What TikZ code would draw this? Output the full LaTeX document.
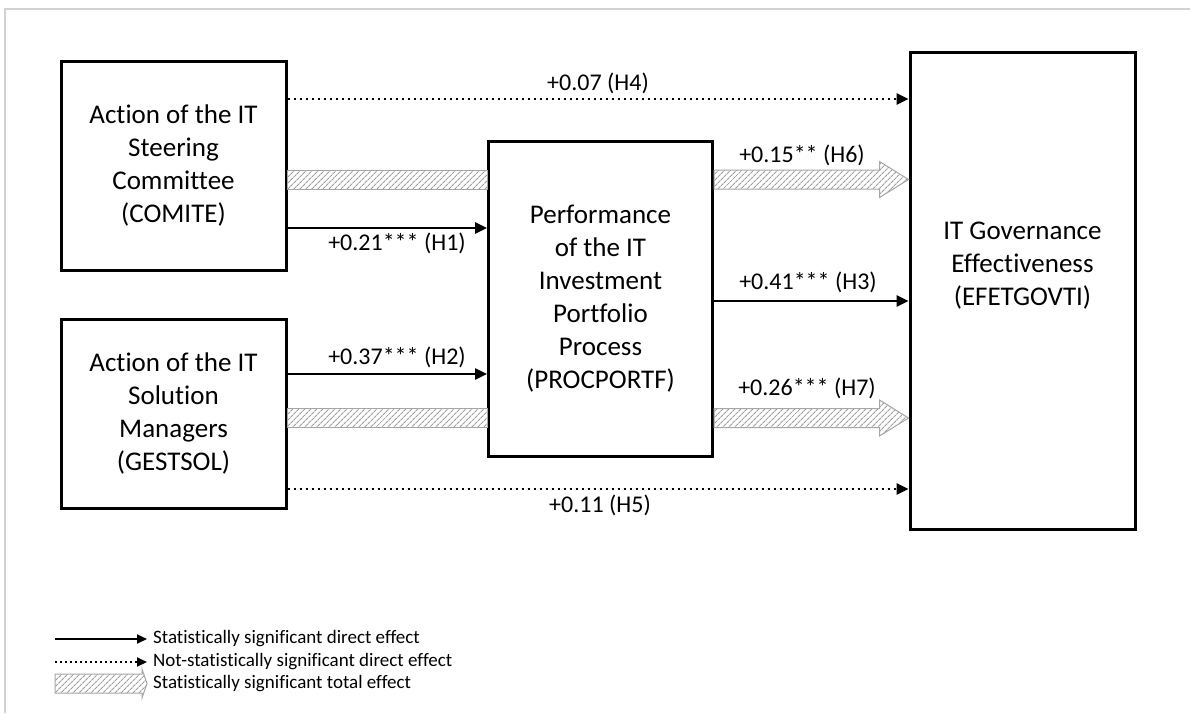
\documentclass[tikz,border=0pt]{standalone}
\usepackage{fontspec}
\setmainfont{Carlito}[Ligatures=NoCommon]
\usetikzlibrary{
  arrows.meta,   % Triangle tips
  calc,          % coordinate offsets
  patterns.meta, % hatched total-effect bars
  positioning
}

\begin{document}
\begin{tikzpicture}[x=1pt, y=-1pt, >={Triangle[length=12pt, width=11pt]},
  box/.style={draw=black, line width=3pt, inner sep=0pt, align=center,
    font=\fontsize{27}{33}\selectfont},
  direct/.style={line width=2.5pt, ->},
  notsig/.style={line width=2.5pt, dash pattern=on 2.5pt off 3.5pt, ->},
  total/.style={draw=gray!70, line width=1pt,
    pattern={Lines[angle=45, distance=4pt, line width=1.2pt]}, pattern color=gray!75},
  elabel/.style={font=\fontsize{24}{29}\selectfont, inner sep=0pt},
  legtext/.style={anchor=west, font=\fontsize{19}{23}\selectfont, inner sep=0pt}]

  \useasboundingbox (0,0) rectangle (1190,713);
  % light frame (top and left only)
  \draw[gray!35, line width=1.5pt] (5,713) -- (5,9) -- (1190,9);

  % =============== constructs ===============
  \node[box, minimum width=225pt, minimum height=209pt] (comite) at (173.5,165.5)
    {Action of the IT\\Steering\\Committee\\(COMITE)};
  \node[box, minimum width=225pt, minimum height=189pt] (gestsol) at (173.5,413.5)
    {Action of the IT\\Solution\\Managers\\(GESTSOL)};
  \node[box, minimum width=224pt, minimum height=315pt] (procportf) at (600.5,298.5)
    {Performance\\of the IT\\Investment\\Portfolio\\Process\\(PROCPORTF)};
  \node[box, minimum width=225pt, minimum height=477pt] (efetgovti) at (1022.5,290.5) {};
  \node[align=center, inner sep=0pt, font=\fontsize{27}{33}\selectfont] (efettext)
    at ([yshift=24.5pt]efetgovti.center) {IT Governance\\Effectiveness\\(EFETGOVTI)};

  % =============== total effects (hatched) ===============
  \coordinate (t1s) at ([yshift=-14pt]comite.east);
  \coordinate (t1e) at (t1s -| procportf.west);
  \draw[total] ($(t1s)+(0,-9.5)$) rectangle ($(t1e)+(0,9.5)$);
  \coordinate (t2s) at ([yshift=-4.5pt]gestsol.east);
  \coordinate (t2e) at (t2s -| procportf.west);
  \draw[total] ($(t2s)+(0,-9.5)$) rectangle ($(t2e)+(0,9.5)$);
  \coordinate (h6s) at ([yshift=119pt]procportf.east);
  \coordinate (h6e) at (h6s -| efetgovti.west);
  \draw[total] ($(h6s)+(0,-9.5)$) -- ($(h6e)+(-29,-9.5)$) -- ($(h6e)+(-29,-18)$) -- (h6e)
    -- ($(h6e)+(-29,18)$) -- ($(h6e)+(-29,9.5)$) -- ($(h6s)+(0,9.5)$) -- cycle;
  \coordinate (h7s) at ([yshift=-119.5pt]procportf.east);
  \coordinate (h7e) at (h7s -| efetgovti.west);
  \draw[total] ($(h7s)+(0,-9.5)$) -- ($(h7e)+(-29,-9.5)$) -- ($(h7e)+(-29,-18)$) -- (h7e)
    -- ($(h7e)+(-29,18)$) -- ($(h7e)+(-29,9.5)$) -- ($(h7s)+(0,9.5)$) -- cycle;

  % =============== direct effects ===============
  \draw[notsig] ([yshift=66.5pt]comite.east) -- ([yshift=66.5pt]comite.east -| efetgovti.west);
  \draw[direct] ([yshift=-62.5pt]comite.east) -- ([yshift=-62.5pt]comite.east -| procportf.west);
  \draw[direct] ([yshift=39.5pt]gestsol.east) -- ([yshift=39.5pt]gestsol.east -| procportf.west);
  \draw[direct] ([yshift=-2.5pt]procportf.east) -- ([yshift=-2.5pt]procportf.east -| efetgovti.west);
  \draw[notsig] ([yshift=-75.5pt]gestsol.east) -- ([yshift=-75.5pt]gestsol.east -| efetgovti.west);

  % path coefficients
  \node[elabel] (lh4) at (598,83) {+0.07 (H4)};
  \node[elabel] (lh1) at (397,243) {+0.21*** (H1)};
  \node[elabel] (lh6) at (802,155) {+0.15** (H6)};
  \node[elabel] (lh3) at (808,282) {+0.41*** (H3)};
  \node[elabel] (lh2) at (397,357) {+0.37*** (H2)};
  \node[elabel] (lh7) at (807,388) {+0.26*** (H7)};
  \node[elabel] (lh5) at (600,505) {+0.11 (H5)};

  % =============== legend ===============
  \node[legtext] (lg1) at (153,639) {Statistically significant direct effect};
  \node[legtext] (lg2) at (153,662) {Not-statistically significant direct effect};
  \node[legtext] (lg3) at (153,683.5) {Statistically significant total effect};
  \coordinate (lg1a) at (55,639);
  \coordinate (lg2a) at (55,662);
  \coordinate (lg3a) at (55,683.5);
  \draw[line width=2pt, -{Triangle[length=10pt, width=9pt]}] (lg1a) -- ([xshift=-6pt]lg1.west);
  \draw[line width=2pt, dash pattern=on 2pt off 3pt, -{Triangle[length=10pt, width=9pt]}]
    (lg2a) -- ([xshift=-6pt]lg2.west);
  \coordinate (lg3e) at ([xshift=-6pt]lg3.west);
  \draw[total] ($(lg3a)+(0,-9.5)$) -- ($(lg3e)+(-5,-9.5)$) -- ($(lg3e)+(-5,-14.5)$) -- (lg3e)
    -- ($(lg3e)+(-5,14.5)$) -- ($(lg3e)+(-5,9.5)$) -- ($(lg3a)+(0,9.5)$) -- cycle;

\end{tikzpicture}
\end{document}
